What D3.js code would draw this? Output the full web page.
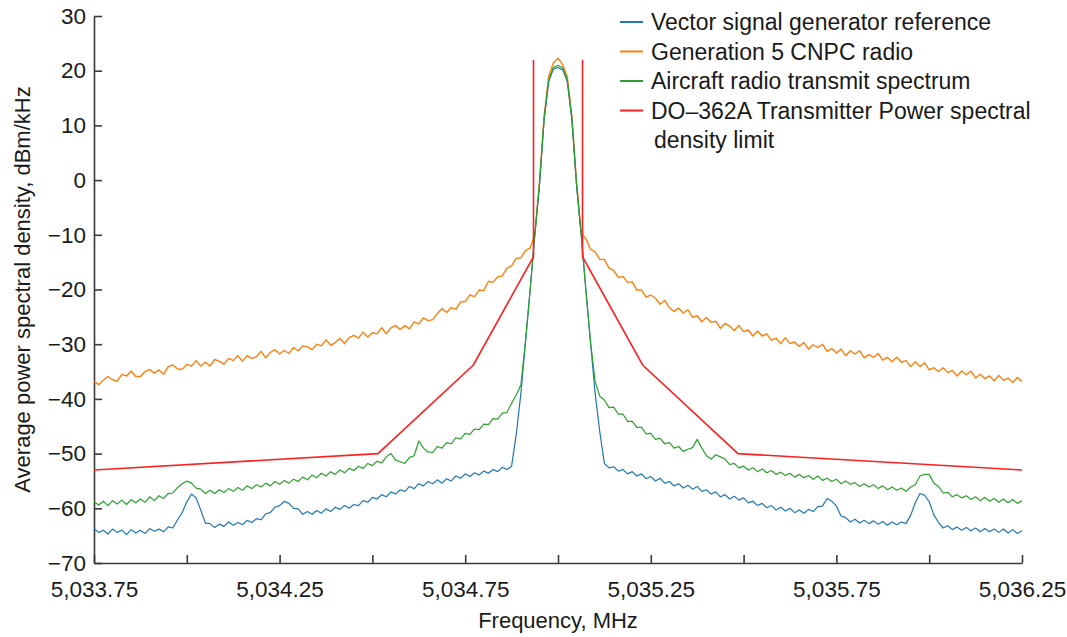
<!DOCTYPE html>
<html>
<head>
<meta charset="utf-8">
<script src="https://cdn.jsdelivr.net/npm/d3@7"></script>
<style>
  body { margin: 0; background: #fff; }
  svg { display: block; font-family: "Liberation Sans", Arial, sans-serif; }
  .axis path, .axis line { stroke: #3a3a3a; stroke-width: 1.6; }
  .axis text { font-size: 22.5px; fill: #1a1a1a; }
</style>
</head>
<body>
<div class="chart"></div>
<script>
// sample grid, 12.5 kHz steps across the span
var startFreq = 5033.75;
var stepFreq = 0.0125;
var freqs = d3.range(201).map(function(i){ return startFreq + i * stepFreq; });

// Vector signal generator reference
var vsgRef = [
  -63.7,-64.4,-64.0,-64.7,-63.8,-64.4,-64.0,-64.8,-63.9,-64.5,
  -64.0,-64.6,-63.7,-64.2,-63.8,-64.3,-63.4,-63.6,-62.1,-60.8,
  -58.8,-57.4,-58.1,-60.3,-62.7,-62.8,-63.5,-62.9,-63.3,-62.5,
  -63.1,-62.6,-63.0,-62.2,-62.6,-61.9,-62.1,-61.0,-60.8,-59.8,
  -59.5,-58.7,-59.1,-60.0,-60.1,-61.1,-60.6,-61.1,-60.4,-60.9,
  -60.1,-60.6,-59.8,-60.2,-59.5,-60.0,-59.3,-59.5,-58.6,-58.9,
  -58.0,-58.3,-57.5,-57.9,-57.0,-57.4,-56.6,-56.9,-56.0,-56.4,
  -55.5,-55.9,-55.1,-55.5,-54.8,-55.4,-54.6,-55.0,-54.1,-54.5,
  -53.7,-54.2,-53.5,-53.9,-53.2,-53.6,-52.9,-53.3,-52.5,-52.9,
  -52.3,-46.5,-39.0,-29.5,-20.0,-10.0,-1.0,11.0,18.0,20.3,
  20.6,
  20.2,18.0,11.0,-1.0,-10.0,-20.0,-29.5,-39.0,-46.0,
  -51.8,-52.6,-52.4,-53.2,-52.9,-53.7,-53.3,-54.1,-53.7,-54.6,
  -54.2,-55.0,-54.5,-55.4,-55.1,-55.9,-55.5,-56.3,-55.8,-56.5,
  -56.0,-56.9,-56.6,-57.4,-57.0,-57.9,-57.5,-58.3,-57.8,-58.5,
  -58.1,-59.0,-58.7,-59.5,-59.1,-59.9,-59.5,-60.3,-59.8,-60.5,
  -60.0,-60.8,-60.3,-60.9,-60.2,-60.6,-59.7,-59.6,-58.2,-58.7,
  -59.6,-61.4,-61.7,-62.5,-62.0,-62.7,-62.2,-62.8,-62.3,-62.9,
  -62.4,-63.1,-62.5,-63.0,-62.5,-62.8,-61.3,-59.0,-57.3,-57.6,
  -58.8,-61.2,-62.6,-63.6,-63.2,-63.9,-63.4,-64.0,-63.5,-64.1,
  -63.6,-64.3,-63.7,-64.3,-63.8,-64.4,-63.8,-64.5,-63.9,-64.6,-64.1
];

// Generation 5 CNPC radio
var gen5 = [
  -36.8,-37.4,-36.6,-35.9,-36.5,-36.8,-35.5,-35.8,-34.9,-35.9,
  -35.9,-35.0,-34.6,-35.3,-34.7,-35.5,-34.1,-33.8,-34.5,-34.6,
  -33.7,-34.0,-33.0,-34.0,-33.3,-34.0,-32.8,-33.1,-33.7,-32.6,
  -33.0,-32.1,-33.1,-32.1,-32.6,-32.3,-31.3,-32.5,-31.5,-31.0,
  -31.8,-31.1,-31.7,-30.6,-31.2,-30.3,-30.5,-31.0,-30.0,-30.3,
  -29.2,-30.2,-29.7,-28.9,-29.9,-28.8,-28.4,-28.9,-27.8,-28.7,
  -27.9,-28.1,-27.0,-28.1,-27.0,-26.6,-27.3,-26.6,-27.2,-25.9,
  -26.3,-25.2,-25.7,-25.5,-24.4,-23.5,-24.2,-23.3,-23.6,-22.3,
  -22.2,-21.0,-21.3,-20.1,-20.2,-18.5,-18.7,-17.7,-17.5,-16.1,
  -15.7,-14.3,-14.2,-12.9,-12.4,-10.0,-0.4,11.6,19.0,21.4,
  22.3,
  21.1,18.9,11.6,-0.4,-9.7,-10.7,-12.6,-13.1,-14.5,
  -14.5,-16.1,-16.5,-17.8,-17.6,-18.7,-18.6,-20.1,-20.1,-21.4,
  -21.0,-21.6,-22.7,-22.0,-23.3,-24.0,-23.4,-24.3,-23.7,-25.1,
  -24.8,-25.9,-25.1,-26.0,-25.8,-27.1,-26.2,-26.7,-27.5,-26.6,
  -27.7,-27.4,-28.5,-27.6,-28.5,-28.1,-29.3,-28.9,-29.9,-28.8,
  -29.9,-29.6,-30.4,-29.7,-30.9,-30.1,-30.6,-30.0,-31.3,-30.8,
  -31.6,-30.9,-32.1,-31.2,-31.8,-31.2,-32.5,-31.9,-32.4,-31.7,
  -32.9,-32.4,-33.2,-32.4,-33.3,-33.0,-34.1,-33.2,-34.1,-33.4,
  -34.7,-34.3,-35.0,-34.3,-35.2,-34.8,-35.8,-34.9,-35.6,-34.9,
  -36.2,-35.5,-36.3,-35.8,-36.7,-35.7,-36.6,-36.2,-37.0,-36.1,-36.8
];

// Aircraft radio transmit spectrum
var aircraft = [
  -58.8,-59.4,-58.7,-59.5,-58.6,-59.2,-58.5,-59.3,-58.4,-59.0,
  -58.3,-58.9,-57.9,-58.6,-57.7,-58.2,-57.3,-57.2,-56.2,-55.5,
  -55.0,-55.4,-56.3,-56.5,-57.3,-56.7,-57.3,-56.6,-57.1,-56.4,
  -56.9,-56.2,-56.7,-55.9,-56.4,-55.7,-56.1,-55.4,-55.9,-55.1,
  -55.6,-54.9,-55.4,-54.7,-55.1,-54.3,-54.8,-53.9,-54.4,-53.6,
  -54.1,-53.3,-53.8,-53.0,-53.5,-52.7,-53.1,-52.3,-52.7,-51.8,
  -52.2,-51.4,-51.7,-50.6,-50.0,-51.2,-51.5,-51.8,-50.7,-50.4,
  -47.7,-49.0,-49.7,-49.8,-48.7,-49.0,-48.0,-48.2,-47.1,-47.3,
  -46.3,-46.5,-45.5,-45.6,-44.6,-44.7,-43.6,-43.7,-42.6,-42.5,
  -40.8,-39.3,-37.4,-29.5,-20.0,-10.0,-0.8,11.2,18.3,20.6,
  21.0,
  20.6,18.3,11.2,-0.8,-10.0,-20.0,-29.5,-36.8,-39.5,
  -40.2,-41.6,-41.5,-42.8,-42.8,-44.1,-44.1,-45.2,-45.2,-46.4,
  -46.3,-47.4,-47.2,-48.2,-48.0,-49.0,-48.7,-49.6,-49.2,-48.9,
  -47.4,-49.0,-50.4,-51.0,-50.2,-50.6,-51.0,-52.0,-51.8,-52.6,
  -52.3,-53.0,-52.6,-53.3,-52.8,-53.5,-53.1,-53.8,-53.4,-54.0,
  -53.6,-54.3,-53.8,-54.4,-54.0,-54.7,-54.1,-54.9,-54.5,-55.1,
  -54.7,-55.5,-55.0,-55.6,-55.3,-56.0,-55.5,-56.1,-55.7,-56.4,
  -55.9,-56.6,-56.1,-56.7,-56.3,-56.9,-56.1,-55.7,-54.1,-53.8,
  -53.8,-55.4,-56.0,-57.2,-57.1,-57.9,-57.5,-58.1,-57.7,-58.4,
  -57.9,-58.6,-58.0,-58.7,-58.2,-58.9,-58.3,-59.0,-58.4,-59.1,-58.6
];

// DO-362A mask, null splits the two halves
var limitFreq = [5033.75, 5034.515, 5034.772, 5034.934, 5034.934, 5035.0, 5035.066, 5035.066, 5035.228, 5035.485, 5036.25];
var limitVal  = [-53, -50, -33.8, -14, 22, null, 22, -14, -33.8, -50, -53];

var xTicks = [5033.75, 5034.0, 5034.25, 5034.5, 5034.75, 5035.0, 5035.25, 5035.5, 5035.75, 5036.0, 5036.25];
var xLabels = [5033.75, 5034.25, 5034.75, 5035.25, 5035.75, 5036.25];
var yTicks = [-70, -60, -50, -40, -30, -20, -10, 0, 10, 20, 30];

var seriesNames = ["Vector signal generator reference", "Generation 5 CNPC radio", "Aircraft radio transmit spectrum", "DO\u2013362A Transmitter Power spectral"];
var seriesColors = ["#1f77b4", "#ff7f0e", "#2ca02c", "#ff2020"];

var width = 1067, height = 637;
var margin = {left: 94, right: 45, top: 16, bottom: 74};

var svg = d3.select(".chart").append("svg")
            .attr("width", width)
            .attr("height", height);

var x = d3.scaleLinear()
          .domain([5033.75, 5036.25])
          .range([margin.left, width - margin.right]);

var y = d3.scaleLinear()
          .domain([-70, 30])
          .range([height - margin.bottom, margin.top]);

var fmtX = d3.format(",.2f");

// x axis
svg.append("g")
    .attr("class", "axis")
    .attr("transform", "translate(0," + (height - margin.bottom) + ")")
    .call(d3.axisBottom(x)
        .tickValues(xTicks)
        .tickSizeInner(-8)
        .tickSizeOuter(0)
        .tickPadding(18)
        .tickFormat(function(d){
            return xLabels.some(function(l){ return Math.abs(l - d) < 1e-6; }) ? fmtX(d) : "";
        }));

// y axis
svg.append("g")
    .attr("class", "axis")
    .attr("transform", "translate(" + margin.left + ",0)")
    .call(d3.axisLeft(y)
        .tickValues(yTicks)
        .tickSizeInner(-8)
        .tickSizeOuter(0)
        .tickPadding(8)
        .tickFormat(d3.format("d")));

// axis titles
svg.append("text")
    .attr("x", (margin.left + width - margin.right) / 2)
    .attr("y", 628)
    .attr("text-anchor", "middle")
    .attr("font-size", "22px")
    .style("fill", "#1a1a1a")
    .text("Frequency, MHz");

svg.append("text")
    .attr("transform", "translate(30," + ((margin.top + height - margin.bottom) / 2) + ") rotate(-90)")
    .attr("text-anchor", "middle")
    .attr("font-size", "22px")
    .style("fill", "#1a1a1a")
    .text("Average power spectral density, dBm/kHz");

// traces
var line = d3.line()
    .defined(function(d){ return d[1] !== null; })
    .x(function(d){ return x(d[0]); })
    .y(function(d){ return y(d[1]); });

var plot = svg.append("g");

function addTrace(vals, color, w){
    plot.append("path")
        .datum(freqs.map(function(f, i){ return [f, vals[i]]; }))
        .attr("d", line)
        .style("fill", "none")
        .style("stroke", color)
        .style("stroke-width", w)
        .style("stroke-linejoin", "round");
}

addTrace(gen5, seriesColors[1], 1.4);
addTrace(vsgRef, seriesColors[0], 1.2);
addTrace(aircraft, seriesColors[2], 1.2);

plot.append("path")
    .datum(limitFreq.map(function(f, i){ return [f, limitVal[i]]; }))
    .attr("d", line)
    .style("fill", "none")
    .style("stroke", seriesColors[3])
    .style("stroke-width", 1.6);

// legend
var legend = svg.append("g");
var rowY = [22, 51.5, 81, 110.5];

seriesNames.forEach(function(name, i){
    legend.append("line")
        .attr("x1", 620).attr("x2", 643)
        .attr("y1", rowY[i]).attr("y2", rowY[i])
        .style("stroke", seriesColors[i])
        .style("stroke-width", 2);

    legend.append("text")
        .attr("x", 651)
        .attr("y", rowY[i] + 8)
        .attr("font-size", "23px")
        .style("fill", "#1a1a1a")
        .text(name);
});

legend.append("text")
    .attr("x", 654)
    .attr("y", 148)
    .attr("font-size", "23px")
    .style("fill", "#1a1a1a")
    .text("density limit");
</script>
</body>
</html>
